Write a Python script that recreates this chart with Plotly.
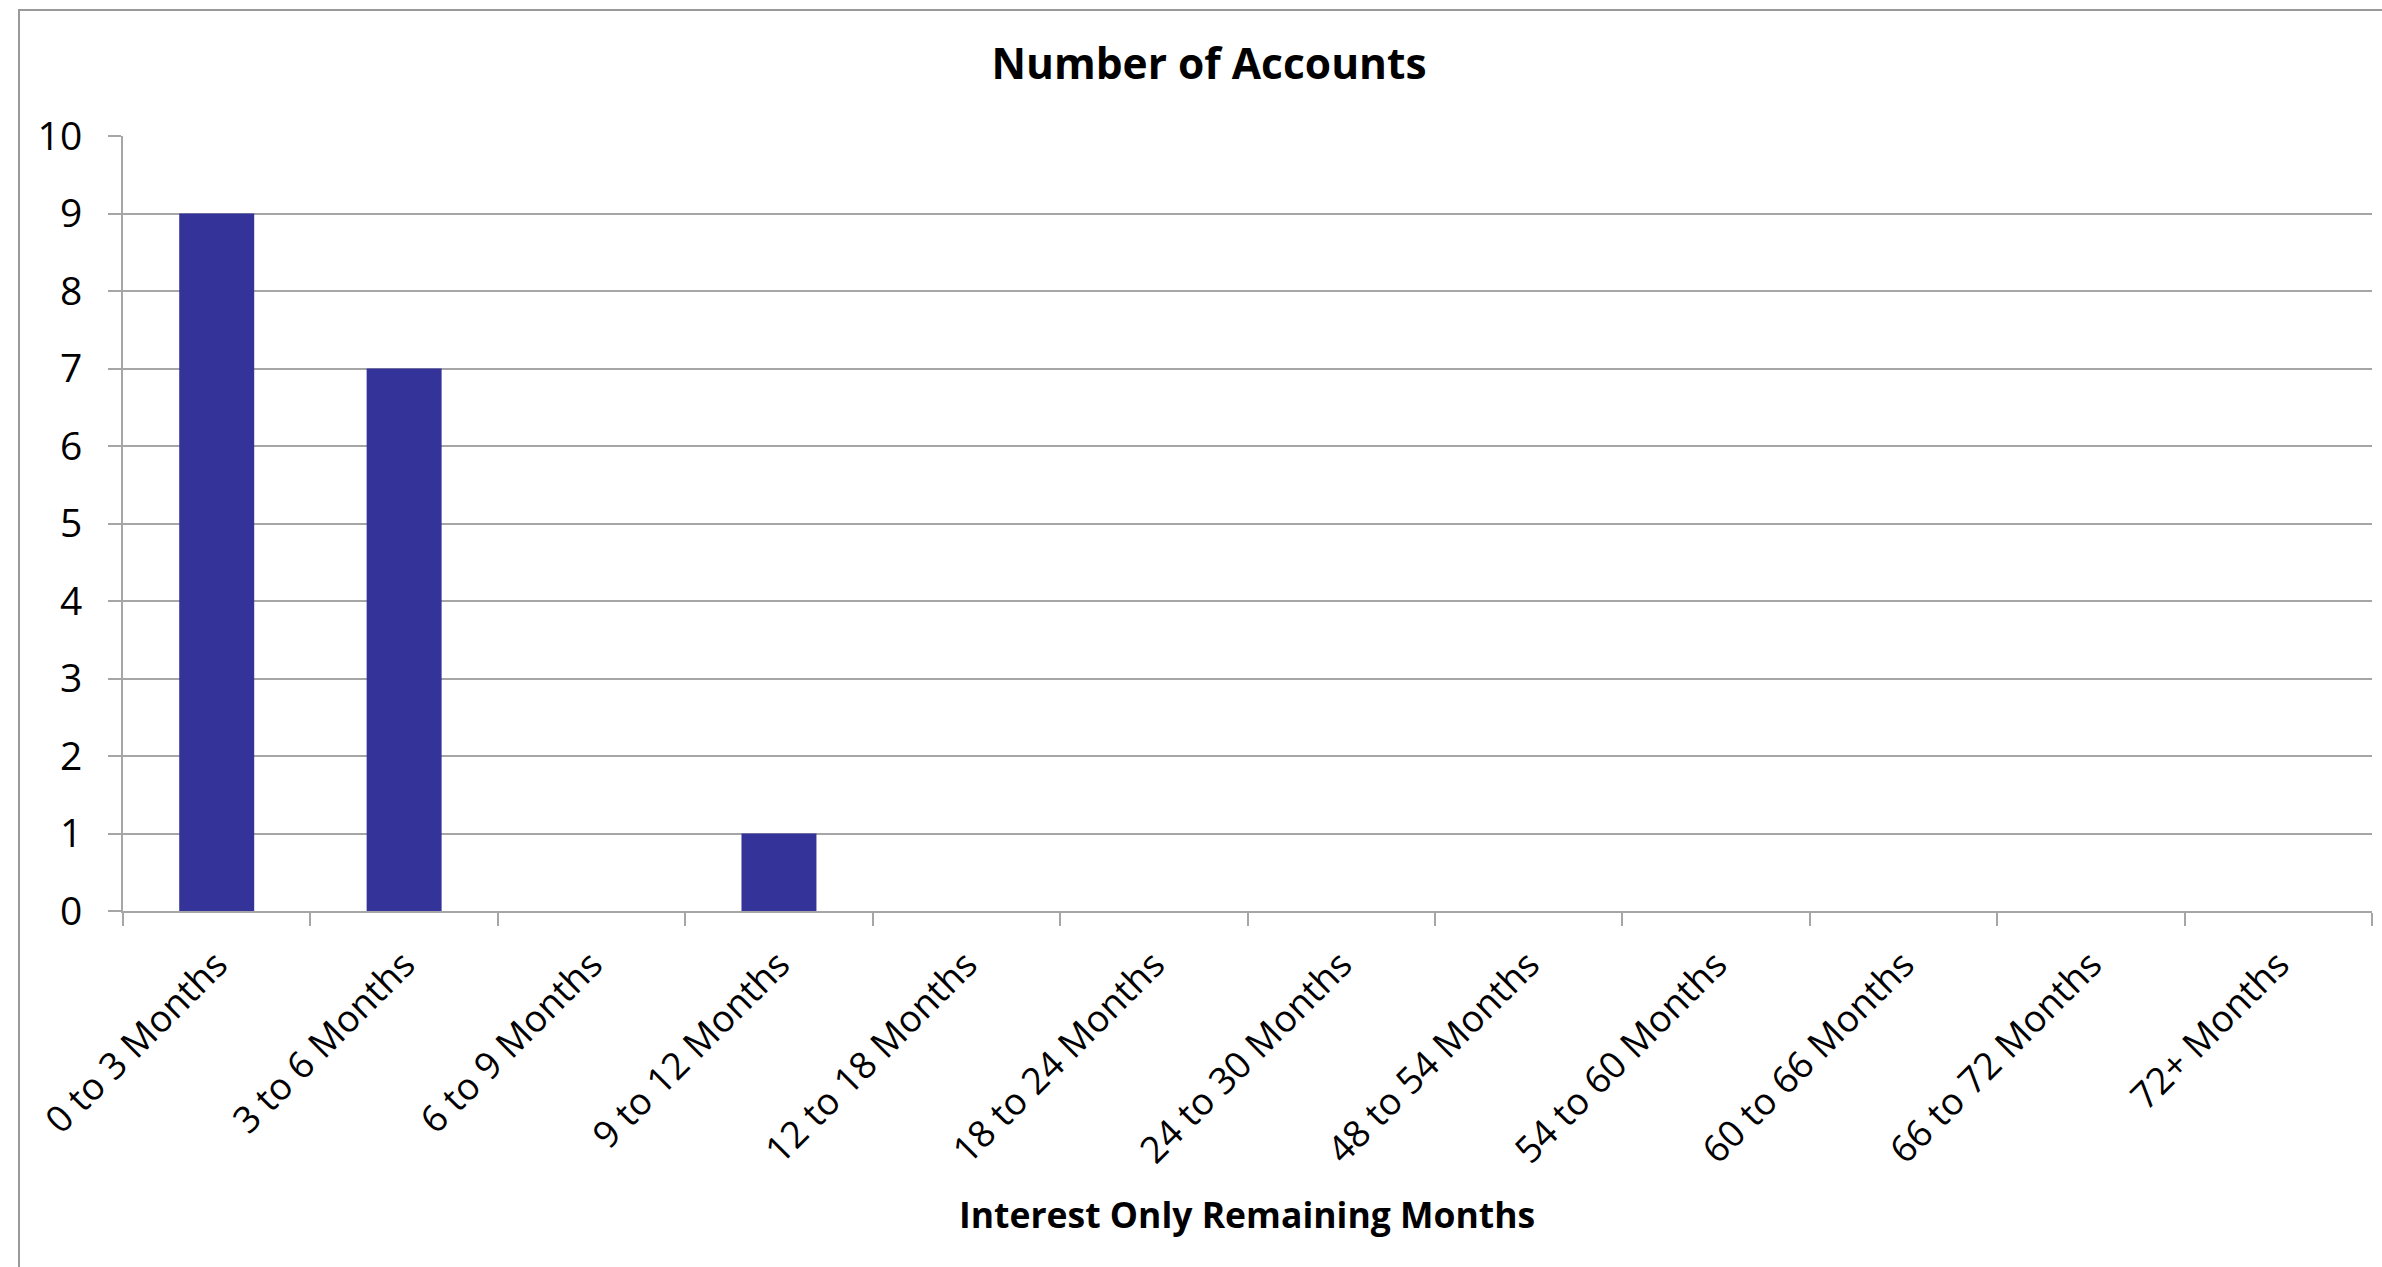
import plotly.graph_objects as go

categories = ["0 to 3 Months", "3 to 6 Months", "6 to 9 Months", "9 to 12 Months",
              "12 to 18 Months", "18 to 24 Months", "24 to 30 Months", "48 to 54 Months",
              "54 to 60 Months", "60 to 66 Months", "66 to 72 Months", "72+ Months"]
accounts = [9, 7, 0, 1, 0, 0, 0, 0, 0, 0, 0, 0]
y_ticks = list(range(0, 11))

W, H = 2382, 1267
L, R, T, B = 123, 2372, 136, 911.5

FONT = "Open Sans"
GRID = "#a6a6a6"

fig = go.Figure(go.Bar(
    x=categories, y=accounts,
    marker=dict(color="#333399", line=dict(width=0)),
    width=0.4,
))

fig.update_layout(
    width=W, height=H,
    margin=dict(l=L, r=W - R, t=T, b=H - B, pad=0),
    paper_bgcolor="white", plot_bgcolor="white",
    showlegend=False,
    font=dict(family=FONT, color="black"),
    title=dict(text="<b>Number of Accounts</b>", font=dict(family=FONT, size=42.5, color="black"),
               x=1209 / W, xref="container", xanchor="center",
               y=1 - 64 / H, yref="container", yanchor="middle"),
    bargap=0.6,
)

fig.update_xaxes(
    type="category", tickangle=-45, tickson="boundaries",
    ticks="outside", ticklen=13, tickcolor=GRID, tickwidth=2,
    showline=True, linecolor=GRID, linewidth=2,
    showgrid=False,
    tickfont=dict(family=FONT, size=37, color="black"),
    ticklabelstandoff=15,
)
fig.update_yaxes(
    range=[0, 10], tickvals=y_ticks,
    ticks="outside", ticklen=13, tickcolor=GRID, tickwidth=2,
    showline=True, linecolor=GRID, linewidth=2,
    showgrid=True, gridcolor=GRID, gridwidth=2,
    zeroline=False,
    tickfont=dict(family=FONT, size=39, color="black"),
    ticklabelstandoff=18,
)

# x-axis title
fig.add_annotation(text="<b>Interest Only Remaining Months</b>",
                   xref="paper", yref="paper",
                   x=(1247 - L) / (R - L), y=-(1215 - B) / (B - T),
                   xanchor="center", yanchor="middle", showarrow=False,
                   font=dict(family=FONT, size=35.5, color="black"))

# chart border (clipped at right/bottom like the reference)
fig.add_shape(type="rect", xref="paper", yref="paper",
              x0=(19 - L) / (R - L), x1=(W + 20 - L) / (R - L),
              y0=-(H + 20 - B) / (B - T), y1=1 + (T - 10) / (B - T),
              line=dict(color="#999999", width=2), fillcolor="rgba(0,0,0,0)", layer="below")

fig.write_html("out.html", config={"displayModeBar": False},
               post_script="document.body.style.margin='0';document.body.style.overflow='hidden';")
